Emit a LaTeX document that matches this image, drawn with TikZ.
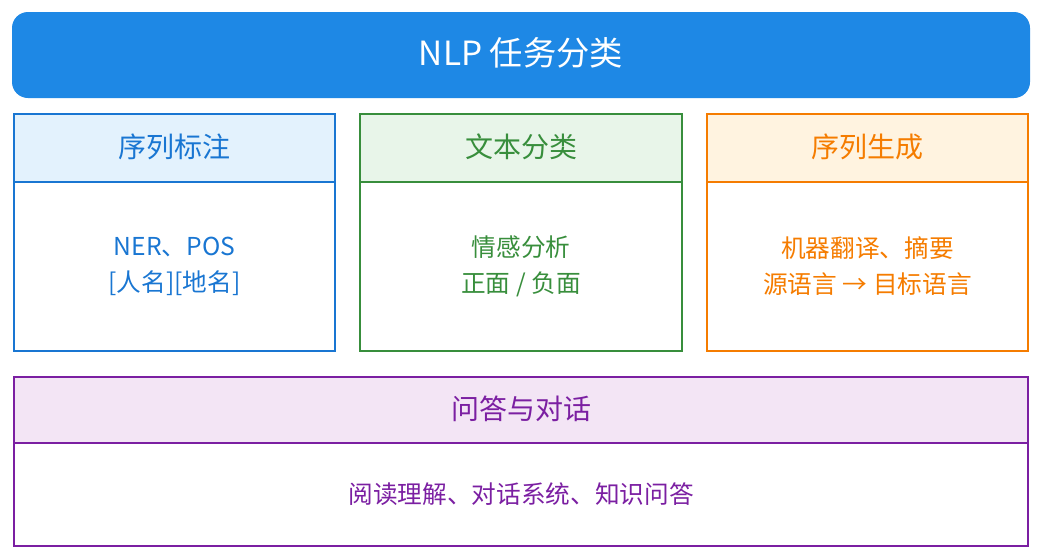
\documentclass[tikz,border=0pt]{standalone}
\usepackage{fontspec}
\setmainfont{Noto Sans CJK SC}
\begin{document}
\begin{tikzpicture}[x=0.75pt,y=-0.75pt,
  hdr/.style={font=\fontsize{21}{25}\selectfont},
  bod/.style={font=\fontsize{18.5}{27}\selectfont,align=center},
  box/.style={line width=2.2pt}]
\useasboundingbox (0,0) rectangle (1043,557);
\definecolor{cb}{HTML}{1E88E5}
\definecolor{b1}{HTML}{1976D2}\definecolor{f1}{HTML}{E3F2FD}
\definecolor{b2}{HTML}{388E3C}\definecolor{f2}{HTML}{E8F5E9}
\definecolor{b3}{HTML}{F57C00}\definecolor{f3}{HTML}{FFF3E0}
\definecolor{b4}{HTML}{7B1FA2}\definecolor{f4}{HTML}{F3E5F5}
\fill[cb,rounded corners=12pt] (12,12) rectangle (1030,98);
\node[text=white,font=\fontsize{25}{30}\selectfont] (title) at (521,53) {NLP 任务分类};
% box 1
\fill[f1] (14,114) rectangle (335,182);
\draw[box,b1] (14,114) rectangle (335,351);
\draw[box,b1] (14,182) -- (335,182);
\node[hdr,text=b1] (h1) at (174.5,147) {序列标注};
\node[bod,text=b1] (t1) at (174.5,266) {NER、POS\\{}[人名][地名]};
% box 2
\fill[f2] (360,114) rectangle (682,182);
\draw[box,b2] (360,114) rectangle (682,351);
\draw[box,b2] (360,182) -- (682,182);
\node[hdr,text=b2] (h2) at (521,147) {文本分类};
\node[bod,text=b2] (t2) at (521,266) {情感分析\\正面 / 负面};
% box 3
\fill[f3] (707,114) rectangle (1028,182);
\draw[box,b3] (707,114) rectangle (1028,351);
\draw[box,b3] (707,182) -- (1028,182);
\node[hdr,text=b3] (h3) at (867.5,147) {序列生成};
\node[bod,text=b3] (t3) at (867.5,266) {机器翻译、摘要\\源语言 → 目标语言};
% box 4
\fill[f4] (14,377) rectangle (1028,443);
\draw[box,b4] (14,377) rectangle (1028,546);
\draw[box,b4] (14,443) -- (1028,443);
\node[hdr,text=b4] (h4) at (521,409) {问答与对话};
\node[bod,text=b4] (t4) at (521,494) {阅读理解、对话系统、知识问答};
\end{tikzpicture}
\end{document}
